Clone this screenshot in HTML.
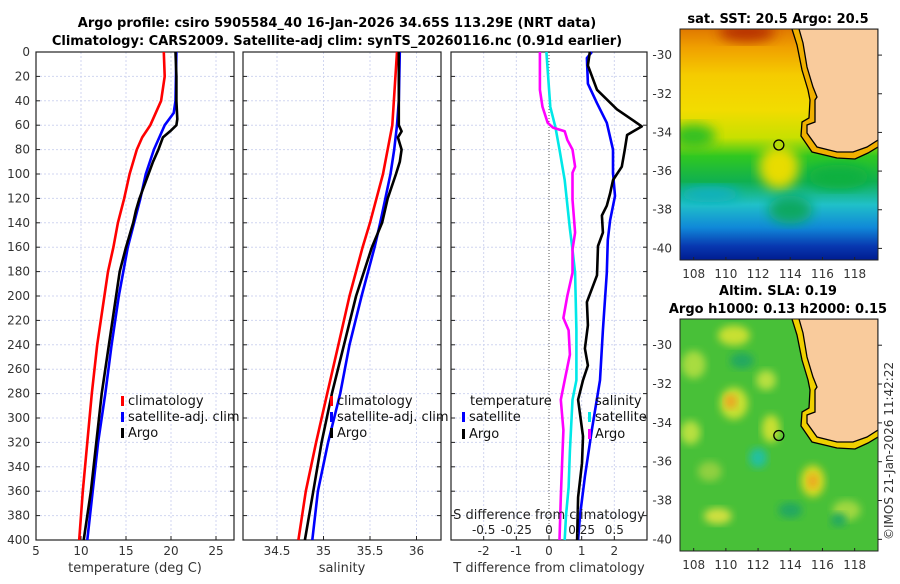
<!DOCTYPE html>
<html><head><meta charset="utf-8"><style>
body{margin:0;background:#fff;width:900px;height:580px;overflow:hidden;font-family:"DejaVu Sans","Liberation Sans",sans-serif}
svg text{font-family:"DejaVu Sans","Liberation Sans",sans-serif}
</style></head><body>
<svg id="fig" width="900" height="580" viewBox="0 0 900 580" xmlns="http://www.w3.org/2000/svg">
<defs>
<filter id="blur6" x="-20%" y="-20%" width="140%" height="140%"><feGaussianBlur stdDeviation="6"/></filter>
<filter id="blur4" x="-20%" y="-20%" width="140%" height="140%"><feGaussianBlur stdDeviation="4"/></filter>
<clipPath id="clipM1"><rect x="680" y="29" width="198" height="231"/></clipPath>
<clipPath id="clipM2"><rect x="680" y="319" width="198" height="232"/></clipPath>
<linearGradient id="sstGrad" x1="0" y1="0" x2="0" y2="1">
<stop offset="0" stop-color="#e07800"/><stop offset="0.08" stop-color="#f0a000"/><stop offset="0.2" stop-color="#f5cc00"/>
<stop offset="0.35" stop-color="#f2dc00"/><stop offset="0.47" stop-color="#c8e000"/><stop offset="0.55" stop-color="#30c820"/>
<stop offset="0.66" stop-color="#10b050"/><stop offset="0.76" stop-color="#20c0c8"/><stop offset="0.86" stop-color="#1088d8"/>
<stop offset="0.94" stop-color="#0838b0"/><stop offset="1" stop-color="#001c90"/></linearGradient>
</defs>
<g id="titles" font-weight="bold" font-size="13" text-anchor="middle" fill="#000">
<text x="337" y="27">Argo profile: csiro 5905584_40 16-Jan-2026 34.65S 113.29E (NRT data)</text>
<text x="337" y="45">Climatology: CARS2009. Satellite-adj clim: synTS_20260116.nc (0.91d earlier)</text>
<text x="778" y="23">sat. SST: 20.5 Argo: 20.5</text>
<text x="778" y="295">Altim. SLA: 0.19</text>
<text x="778" y="313">Argo h1000: 0.13 h2000: 0.15</text>
</g>
<g id="plots"></g>
<g id="maps"></g>
<text transform="translate(893,540) rotate(-90)" font-size="12" fill="#333">©IMOS 21-Jan-2026 11:42:22</text>
</svg>
<script>
// ---- depth axis ----
const depthTicks=[0,20,40,60,80,100,120,140,160,180,200,220,240,260,280,300,320,340,360,380,400];
// ---- panel 1: temperature ----
const tTicks=[5,10,15,20,25];
const tDepthClim=[0,20,40,60,70,80,100,120,140,160,180,200,240,280,320,360,400];
const tClim=[19.2,19.3,18.9,17.7,16.8,16.2,15.4,14.8,14.1,13.6,13.0,12.6,11.8,11.2,10.7,10.2,9.8];
const tDepthSat=[0,40,50,60,80,100,120,140,160,200,240,280,320,360,400];
const tSat=[20.6,20.5,20.3,19.3,18.1,17.2,16.6,15.9,15.2,14.2,13.4,12.7,11.9,11.3,10.7];
const tDepthArgo=[0,20,40,55,60,65,70,80,90,100,110,120,130,140,160,180,200,240,280,320,360,400];
const tArgo=[20.5,20.6,20.6,20.7,20.6,19.9,19.1,18.6,18.0,17.5,17.0,16.5,16.1,15.8,15.0,14.3,13.9,13.1,12.3,11.7,11.1,10.3];
// ---- panel 2: salinity ----
const sTicks=[34.5,35,35.5,36];
const sDepthClim=[0,60,100,140,160,200,240,280,320,360,400];
const sClim=[35.79,35.74,35.64,35.50,35.42,35.28,35.16,35.04,34.92,34.81,34.73];
const sDepthSat=[0,40,60,80,100,140,160,200,240,280,320,360,400];
const sSat=[35.82,35.81,35.79,35.76,35.72,35.61,35.55,35.41,35.28,35.18,35.05,34.94,34.88];
const sDepthArgo=[0,60,65,70,80,90,100,120,140,160,200,240,280,320,360,400];
const sArgo=[35.81,35.81,35.84,35.80,35.84,35.82,35.78,35.69,35.63,35.52,35.35,35.22,35.09,34.98,34.89,34.80];
// ---- panel 3: differences ----
const dTTicks=[-2,-1,0,1,2];
const dSTickLabels=["-0.5","-0.25","0","0.25","0.5"];
const dSTicks=[-0.5,-0.25,0,0.25,0.5];
const dtDepthSat=[0,5,26,42,58,80,99,118,138,154,181,228,269,310,348,380,400];
const dtSat=[1.31,1.16,1.19,1.47,1.77,1.96,1.96,2.02,1.87,1.80,1.77,1.65,1.56,1.31,1.10,0.95,0.89];
const dtDepthArgo=[0,11,31,47,56,61,68,80,94,105,116,126,134,148,159,183,205,224,243,257,269,285,315,337,365,400];
const dtArgo=[1.25,1.19,1.47,2.08,2.57,2.84,2.39,2.32,2.23,1.96,1.87,1.77,1.62,1.65,1.50,1.47,1.16,1.19,1.10,1.19,1.04,0.89,1.04,1.01,0.89,0.86];
const dsDepthArgo=[0,31,45,58,62,65,72,80,94,99,110,121,148,162,181,200,218,228,248,269,285,310,337,365,400];
const dsArgo=[-0.07,-0.07,-0.05,-0.01,0.03,0.12,0.14,0.18,0.20,0.18,0.18,0.18,0.20,0.18,0.18,0.14,0.11,0.15,0.16,0.12,0.09,0.11,0.10,0.09,0.08];
const dsDepthSat=[0,45,62,80,105,145,162,181,228,269,285,327,357,380,400];
const dsSat=[-0.02,0.01,0.05,0.08,0.12,0.16,0.18,0.20,0.21,0.21,0.18,0.16,0.15,0.13,0.12];

const NS="http://www.w3.org/2000/svg";
const plots=document.getElementById('plots');
function mk(tag,attrs,parent){const e=document.createElementNS(NS,tag);for(const k in attrs)e.setAttribute(k,attrs[k]);(parent||plots).appendChild(e);return e;}
const Y0=52,Y1=540;
function yScale(d){return Y0+(d/400)*(Y1-Y0);}
function xScaleFor(x0,x1,v0,v1){return v=>x0+(v-v0)/(v1-v0)*(x1-x0);}
const panels=[
 {name:'temperature-panel',x0:36,x1:234,v0:5,v1:27,ticks:tTicks,label:'temperature (deg C)'},
 {name:'salinity-panel',x0:243,x1:441,v0:34.5-34/93,v1:34.5+164/93,ticks:sTicks,label:'salinity'},
 {name:'difference-panel',x0:451,x1:647,v0:-3,v1:3,ticks:dTTicks,label:'T difference from climatology'}
];
panels.forEach((p,i)=>{
  const g=mk('g',{});
  
  
  p.g=g; p.x=xScaleFor(p.x0,p.x1,p.v0,p.v1);
  depthTicks.forEach(d=>{
    const l=mk('line',{x1:p.x0,x2:p.x1,y1:yScale(d),y2:yScale(d),stroke:'#d0d6f0','stroke-width':1,'stroke-dasharray':'2,2'},g);
    
    
    mk('line',{x1:p.x0,x2:p.x0+4,y1:yScale(d),y2:yScale(d),stroke:'#222'},g);
    mk('line',{x1:p.x1-4,x2:p.x1,y1:yScale(d),y2:yScale(d),stroke:'#222'},g);
  });
  p.ticks.forEach(v=>{
    const X=p.x(v);
    const zero=(i===2&&v===0);
    const l=mk('line',{x1:X,x2:X,y1:Y0,y2:Y1,stroke:zero?'#555':'#d0d6f0','stroke-width':1,'stroke-dasharray':zero?'1,2':'2,2'},g);
    
    
    mk('line',{x1:X,x2:X,y1:Y1,y2:Y1-4,stroke:'#222'},g);
    const t=mk('text',{x:X,y:555,'font-size':12,'text-anchor':'middle',fill:'#333'},g);
    t.textContent=String(v);
    
    
  });
  const r=mk('rect',{x:p.x0,y:Y0,width:p.x1-p.x0,height:Y1-Y0,fill:'none',stroke:'#222','stroke-width':1.2},g);
  
  
  const xl=mk('text',{x:(p.x0+p.x1)/2,y:572,'font-size':13,'text-anchor':'middle',fill:'#333'},g);
  xl.textContent=p.label;
  
  
});
depthTicks.forEach(d=>{
  const t=mk('text',{x:30,y:yScale(d)+4,'font-size':12,'text-anchor':'end',fill:'#333'});
  t.textContent=String(d);
  
  
});
function line(p,depths,vals,color,name,scale){
  const xs=scale||p.x;
  const pts=depths.map((d,i)=>xs(vals[i]).toFixed(1)+','+yScale(d).toFixed(1)).join(' ');
  const e=mk('polyline',{points:pts,fill:'none',stroke:color,'stroke-width':2.6,'stroke-linejoin':'round'},p.g);
  
  
}
const P1=panels[0],P2=panels[1],P3=panels[2];
line(P1,tDepthClim,tClim,'#ff0000','temp-climatology-line');
line(P1,tDepthSat,tSat,'#0000ff','temp-satellite-line');
line(P1,tDepthArgo,tArgo,'#000000','temp-argo-line');
line(P2,sDepthClim,sClim,'#ff0000','sal-climatology-line');
line(P2,sDepthSat,sSat,'#0000ff','sal-satellite-line');
line(P2,sDepthArgo,sArgo,'#000000','sal-argo-line');
const sx=xScaleFor(P3.x0,P3.x1,-0.75,0.75);
line(P3,dsDepthSat,dsSat,'#00e8e8','sdiff-satellite-line',sx);
line(P3,dsDepthArgo,dsArgo,'#ff00ff','sdiff-argo-line',sx);
line(P3,dtDepthSat,dtSat,'#0000ff','tdiff-satellite-line');
line(P3,dtDepthArgo,dtArgo,'#000000','tdiff-argo-line');
const st=mk('text',{x:549,y:519,'font-size':13,'text-anchor':'middle',fill:'#222'},P3.g);
st.textContent='S difference from climatology';


dSTicks.forEach((v,i)=>{
  const t=mk('text',{x:sx(v),y:534,'font-size':12,'text-anchor':'middle',fill:'#222'},P3.g);
  t.textContent=dSTickLabels[i];
  
  
});
function legend(g,x,y,color,text,name){
  const m=mk('rect',{x:x,y:y-9,width:3,height:10,fill:color},g);
  
  
  const t=mk('text',{x:x+7,y:y,'font-size':13,fill:'#111'},g);
  t.textContent=text;
  
  
}
legend(P1.g,121,405,'#ff0000','climatology','legend-climatology');
legend(P1.g,121,421,'#0000ff','satellite-adj. clim','legend-satellite');
legend(P1.g,121,437,'#000000','Argo','legend-argo');
legend(P2.g,330,405,'#ff0000','climatology','legend-climatology');
legend(P2.g,330,421,'#0000ff','satellite-adj. clim','legend-satellite');
legend(P2.g,330,437,'#000000','Argo','legend-argo');
(function(){const t=mk('text',{x:470,y:405,'font-size':13,fill:'#111'},P3.g);t.textContent='temperature';


const u=mk('text',{x:595,y:405,'font-size':13,fill:'#111'},P3.g);u.textContent='salinity';

})();
legend(P3.g,462,421,'#0000ff','satellite','legend-t-satellite');
legend(P3.g,462,438,'#000000','Argo','legend-t-argo');
legend(P3.g,588,421,'#00e8e8','satellite','legend-s-satellite');
legend(P3.g,588,438,'#ff00ff','Argo','legend-s-argo');

// ---- maps ----
const lonTicks=[108,110,112,114,116,118];
const latTicks=[-30,-32,-34,-36,-38,-40];
const argoLon=113.29, argoLat=-34.65;
const maps=document.getElementById('maps');
function mapFrame(top,bottom,latTop,latBot,clip,name,fill){
  const g=mk('g',{},maps);
  
  
  const lx=v=>680+(v-107.15)/(119.45-107.15)*198;
  const ly=v=>top+(latTop-v)/(latTop-latBot)*(bottom-top);
  const c=mk('g',{'clip-path':'url(#'+clip+')'},g);
  fill(c,lx,ly);
  const off=top-29;
  const coast=[[799,29],[803,43],[807,67],[813,87],[817,97],[815,100],[815,122],[807,125],[807,133],[817,147],[837,152],[853,152],[867,147],[878,140]];
  const shelf=[[792,29],[797,45],[802,70],[808,90],[810,100],[809,118],[802,122],[801,136],[812,152],[837,158],[855,159],[868,153],[878,147]];
  mk('polygon',{points:shelf.concat([[878,29]]).map(p=>p[0]+','+(p[1]+off)).join(' '),fill:name==='sst-map'?'#f0b000':'#f0d000'},c);
  const land=mk('polygon',{points:coast.concat([[878,29]]).map(p=>p[0]+','+(p[1]+off)).join(' '),fill:'#f9cb9c',stroke:'#000','stroke-width':1.3},c);
  
  
  mk('polyline',{points:shelf.map(p=>p[0]+','+(p[1]+off)).join(' '),fill:'none',stroke:'#000','stroke-width':1.3},c);
  const ci=mk('circle',{cx:lx(argoLon),cy:ly(argoLat),r:5,fill:'none',stroke:'#000','stroke-width':1.3},g);
  
  
  mk('rect',{x:680,y:top,width:198,height:bottom-top,fill:'none',stroke:'#222','stroke-width':1},g);
  lonTicks.forEach(v=>{const t=mk('text',{x:lx(v),y:bottom+18,'font-size':12,'text-anchor':'middle',fill:'#333'},g);t.textContent=v;
    
    
    mk('line',{x1:lx(v),x2:lx(v),y1:bottom,y2:bottom-3,stroke:'#222'},g);});
  latTicks.forEach(v=>{const t=mk('text',{x:672,y:ly(v)+4,'font-size':12,'text-anchor':'end',fill:'#333'},g);t.textContent=v;
    
    
    mk('line',{x1:878,x2:882,y1:ly(v),y2:ly(v),stroke:'#222'},g);});
}
function blob(c,x,y,rx,ry,col,f){mk('ellipse',{cx:x,cy:y,rx:rx,ry:ry,fill:col,filter:'url(#'+(f||'blur6')+')'},c);}
mapFrame(29,260,-28.65,-40.6,'clipM1','sst-map',(c,lx,ly)=>{
  mk('rect',{x:680,y:29,width:198,height:231,fill:'url(#sstGrad)'},c);
  blob(c,lx(111.3),ly(-28.8),28,10,'#b83000');
  blob(c,lx(108),ly(-34.2),22,12,'#30c020');
  blob(c,lx(113.3),ly(-35.8),20,22,'#e8dc00');
  blob(c,lx(117),ly(-36.3),30,12,'#10b040');
  blob(c,lx(114),ly(-38),22,14,'#10a860');
  blob(c,lx(109),ly(-37.2),30,8,'#10b0c0');
});
mapFrame(319,551,-28.65,-40.6,'clipM2','sla-map',(c,lx,ly)=>{
  mk('rect',{x:680,y:319,width:198,height:232,fill:'#48c038'},c);
  const Y=v=>ly(v);
  blob(c,lx(108),Y(-31),12,14,'#a8dc40','blur4');
  blob(c,lx(112.5),Y(-31.8),10,10,'#b8e040','blur4');
  blob(c,lx(110.5),Y(-33),14,16,'#c8e030','blur4');
  blob(c,lx(110.3),Y(-32.9),6,7,'#f0a020','blur4');
  blob(c,lx(115.4),Y(-37),12,16,'#d8d820','blur4');
  blob(c,lx(115.4),Y(-37),5,7,'#f0a020','blur4');
  blob(c,lx(112),Y(-35.8),9,10,'#20c0a0','blur4');
  blob(c,lx(110.5),Y(-29.5),16,10,'#c8e030','blur4');
  blob(c,lx(112.8),Y(-34.3),9,14,'#c8e030','blur4');
  blob(c,lx(109.5),Y(-38.8),14,8,'#d0e040','blur4');
  blob(c,lx(114),Y(-38.5),12,8,'#20a860','blur4');
  blob(c,lx(111),Y(-30.8),12,8,'#20a860','blur4');
  blob(c,lx(107.8),Y(-34.5),10,12,'#b8e040','blur4');
  blob(c,lx(116.5),Y(-32),14,14,'#a0d830','blur4');
  blob(c,lx(117.5),Y(-38.5),14,10,'#a0d840','blur4');
  blob(c,lx(109),Y(-36.5),12,10,'#90d040','blur4');
  blob(c,lx(117),Y(-39),8,7,'#20a860','blur4');
});
</script>
</body></html>
